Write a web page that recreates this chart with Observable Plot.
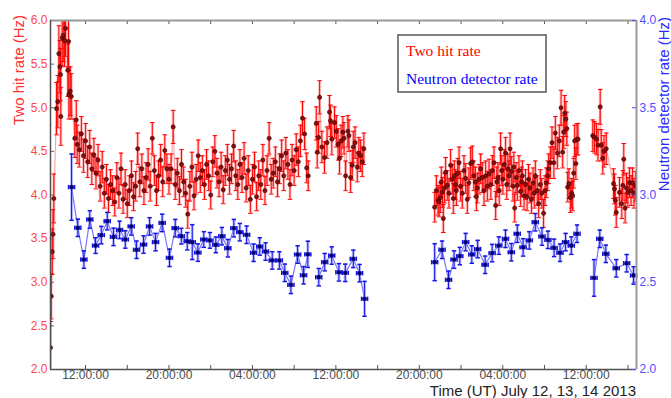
<!DOCTYPE html>
<html><head><meta charset="utf-8">
<script src="https://cdn.jsdelivr.net/npm/d3@7"></script>
<script src="https://cdn.jsdelivr.net/npm/@observablehq/plot@0.6"></script>
<style>
html,body{margin:0;padding:0;background:#fff;}
#chart{position:relative;width:671px;height:398px;overflow:hidden;}
#chart svg{position:absolute;left:0;top:0;}
</style></head><body><div id="chart"></div>
<script>
// Hours since 2013-07-12 00:00 UT, rate (Hz), error (Hz)
const redSeg1 = [[8.64,2.25,.30],[8.71,2.84,.26],[8.81,3.35,.26],[8.88,3.55,.28],[8.96,3.96,.28],[9.22,4.99,.30],[9.34,5.07,.30],[9.44,5.62,.32],[9.54,5.47,.30],[9.60,5.38,.30],[9.63,4.90,.33],[9.76,5.80,.32],[9.86,5.83,.30],[9.99,5.77,.30],[10.08,5.91,.32],[10.30,5.43,.30],[10.37,5.76,.30],[10.40,5.15,.28],[10.53,5.19,.28],[10.63,5.13,.26],[10.97,4.65,.22],[11.11,4.86,.22],[11.20,4.58,.22],
[11.4,4.52,.2],[11.6,4.70,.2],[11.8,4.45,.19],[12.0,4.62,.2],[12.2,4.38,.18],[12.4,4.55,.19],[12.6,4.30,.18],[12.8,4.46,.19],[13.0,4.25,.18],[13.2,4.40,.18],[13.4,4.10,.17],[13.6,4.32,.18],[13.8,4.02,.17],[14.0,4.18,.17],[14.2,3.96,.16],[14.4,4.12,.17],[14.6,4.05,.17],[14.8,3.92,.16],[15.0,4.20,.17],[15.2,4.02,.17],[15.4,4.30,.18],[15.6,3.95,.16],[15.8,4.12,.17],[16.0,3.90,.16],[16.2,4.05,.17],[16.4,4.22,.17],[16.6,3.98,.16],[16.8,4.10,.17],[17.0,4.53,.18],[17.2,4.15,.17],[17.4,4.30,.17],[17.6,4.05,.16],[17.8,4.20,.17],[18.0,4.35,.18],[18.2,4.10,.17],[18.4,4.65,.18],[18.6,4.28,.17],[18.8,4.05,.17],[19.0,4.22,.17],[19.2,4.40,.18],[19.4,4.15,.17],[19.6,4.51,.18],[19.8,4.30,.17],[20.0,4.18,.17],[20.2,4.30,.17],[20.4,4.78,.19],[20.6,4.12,.17],[20.8,4.25,.17],[21.0,4.05,.16],[21.2,4.35,.17],[21.4,4.15,.17],[21.6,4.02,.16],[21.8,3.78,.16],[22.0,4.10,.17],[22.2,4.32,.17],[22.4,3.99,.16],[22.6,4.18,.17],[22.8,4.45,.18],[23.0,4.20,.17],[23.2,4.28,.17],[23.4,4.12,.17],[23.6,4.35,.17],[23.8,4.22,.17],[24.0,4.00,.16],[24.2,4.38,.17],[24.4,4.50,.18],[24.6,4.25,.17],[24.8,4.15,.17],[25.0,4.32,.17],[25.2,4.06,.16],[25.4,4.28,.17],[25.6,4.40,.18],[25.8,4.18,.17],[26.0,4.30,.17],[26.2,4.56,.18],[26.4,4.22,.17],[26.6,4.12,.17],[26.8,4.35,.17],[27.0,4.20,.17],[27.2,4.42,.18],[27.4,4.08,.16],[27.6,4.28,.17],[27.8,3.95,.16],[28.0,4.18,.17],[28.2,4.32,.17],[28.4,3.98,.16],[28.6,4.22,.17],[28.8,4.12,.17],[29.0,4.40,.18],[29.2,4.05,.16],[29.4,4.28,.17],[29.6,4.65,.18],[29.8,4.18,.17],[30.0,4.25,.17],[30.2,4.38,.17],[30.4,4.15,.17],[30.6,4.30,.17],[30.8,4.45,.18],[31.0,4.22,.17],[31.2,4.48,.18],[31.4,4.35,.17],[31.6,4.12,.17],[31.8,4.40,.18],[32.0,4.28,.17],[32.2,4.52,.18],[32.4,4.38,.17],[32.6,4.62,.18],[32.8,4.88,.19],[33.0,4.70,.18],[33.2,4.31,.17],[33.35,4.22,.17]];
const redSeg2 = [[34.12,4.82,.19],[34.21,4.49,.18],[34.34,4.66,.18],[34.44,5.12,.19],[34.66,4.55,.18],[34.91,4.43,.18],[35.15,4.60,.18],[35.39,4.95,.19],[35.49,4.85,.18],[35.61,4.64,.18],[35.87,4.83,.18],[36.04,4.73,.18],[36.21,4.58,.18],[36.35,4.42,.18],[36.50,4.62,.18],[36.67,4.72,.18],[36.78,4.65,.18],[36.93,4.22,.17],[37.15,4.73,.18],[37.25,4.68,.18],[37.41,4.20,.17],[37.57,4.34,.17],[37.67,4.55,.18],[37.84,4.60,.18],[38.05,4.32,.17],[38.20,4.48,.18],[38.37,4.45,.18],[38.53,4.38,.17],[38.68,4.53,.18]];
const redSeg3 = [[45.47,3.86,.17],[45.63,4.05,.17],[45.79,3.94,.17],[45.89,3.92,.17],[46.01,3.97,.17],[46.11,4.15,.17],[46.21,4.03,.17],[46.30,3.73,.16],[46.42,4.08,.17],[46.52,4.26,.17],[46.68,4.11,.17],[46.84,4.02,.17],[47.00,4.34,.18],[47.16,4.18,.17],[47.26,3.96,.17],[47.36,4.22,.17],[47.46,4.12,.17],[47.55,4.05,.17],[47.68,4.25,.17],[47.81,4.37,.18],[47.96,4.10,.17],[48.12,4.02,.17],[48.28,4.28,.17],[48.44,4.19,.17],[48.60,3.95,.16],[48.75,4.14,.17],[48.92,4.36,.18],[49.08,4.38,.18],[49.22,4.22,.17],[49.37,4.15,.17],[49.47,3.98,.16],[49.56,4.08,.17],[49.72,4.18,.17],[49.88,4.30,.17],[50.04,4.20,.17],[50.20,4.05,.17],[50.36,4.22,.17],[50.52,4.10,.17],[50.68,4.24,.17],[50.86,4.12,.17],[51.00,4.28,.17],[51.16,4.37,.18],[51.32,3.88,.16],[51.43,4.15,.17],[51.53,4.20,.17],[51.66,4.05,.17],[51.79,4.53,.18],[51.90,4.28,.17],[52.01,4.18,.17],[52.14,4.35,.17],[52.27,4.48,.18],[52.38,4.12,.17],[52.49,4.30,.17],[52.60,4.22,.17],[52.70,4.53,.18],[52.82,4.27,.17],[52.98,4.10,.17],[53.06,4.32,.17],[53.14,3.85,.16],[53.28,4.20,.17],[53.40,4.11,.17],[53.55,4.28,.17],[53.71,4.04,.17],[53.80,4.15,.17],[53.88,4.22,.17],[54.04,3.99,.16],[54.18,4.12,.17],[54.33,3.98,.16],[54.47,4.18,.17],[54.61,4.08,.17],[54.75,3.95,.16],[54.90,4.14,.17],[55.02,4.02,.17],[55.12,4.22,.17],[55.31,4.05,.17],[55.44,3.90,.16],[55.60,4.12,.17],[55.74,4.02,.17],[55.91,3.79,.16],[56.05,4.05,.17],[56.17,4.14,.17],[56.30,4.22,.17],[56.40,4.30,.17],[56.56,4.37,.18],[56.72,4.60,.18],[56.90,4.37,.18],[57.04,4.71,.19],[57.23,4.48,.18],[57.42,4.62,.18],[57.59,5.00,.2],[57.74,4.49,.18],[57.84,4.72,.19],[57.93,4.94,.2],[58.05,4.87,.2],[58.14,4.76,.19],[58.22,4.09,.17],[58.34,4.13,.17],[58.48,3.97,.17],[58.60,4.02,.17],[58.70,3.99,.17],[58.80,4.25,.17],[58.89,4.62,.18],[59.01,4.36,.18],[59.12,4.64,.18],[59.21,4.64,.18]];
const redSeg4 = [[60.63,4.68,.18],[60.80,4.66,.18],[60.99,4.64,.18],[61.13,4.57,.18],[61.34,5.01,.2],[61.44,4.57,.18],[61.59,4.42,.18],[61.71,4.50,.18],[61.92,4.53,.18],[62.62,4.13,.17],[62.71,4.07,.17],[62.78,3.94,.17],[62.88,3.80,.17],[63.19,4.03,.17],[63.41,3.90,.17],[63.51,4.11,.17],[63.60,4.41,.18],[63.73,3.85,.17],[63.86,4.08,.17],[63.99,4.03,.17],[64.15,4.14,.17],[64.30,4.05,.17],[64.44,4.14,.17],[64.58,4.02,.17],[64.73,4.10,.17]];

const blueSeg1 = [[10.66,3.045,.19],[11.26,2.812,.05],[11.84,2.63,.05],[12.41,2.86,.05],[12.96,2.71,.045],[13.51,2.77,.05],[14.08,2.85,.05],[14.68,2.76,.05],[15.26,2.80,.05],[15.81,2.745,.05],[16.38,2.82,.05],[16.89,2.686,.05],[17.56,2.716,.05],[18.14,2.82,.05],[18.71,2.73,.05],[19.35,2.84,.05],[20.05,2.64,.05],[20.60,2.81,.05],[21.18,2.764,.045],[21.75,2.735,.05],[22.23,2.73,.1],[22.77,2.67,.05],[23.34,2.745,.045],[23.92,2.74,.045],[24.49,2.714,.045],[25.07,2.764,.05],[25.64,2.695,.05],[26.22,2.81,.05],[26.79,2.787,.05],[27.44,2.772,.05],[28.11,2.669,.05],[28.70,2.705,.05],[29.26,2.676,.05],[29.90,2.625,.05],[30.58,2.625,.05],[31.10,2.554,.05],[31.69,2.485,.05],[32.33,2.659,.05],[32.90,2.54,.05],[33.31,2.66,.075]];
const blueSeg2 = [[34.36,2.529,.05],[34.93,2.615,.05],[35.60,2.653,.05],[36.29,2.557,.05],[36.90,2.554,.05],[37.67,2.634,.05],[38.27,2.552,.05],[38.75,2.405,.1]];
const blueSeg3 = [[45.47,2.615,.106],[46.18,2.686,.05],[46.80,2.514,.05],[47.33,2.63,.05],[47.88,2.65,.05],[48.44,2.73,.05],[49.03,2.659,.05],[49.59,2.69,.05],[50.31,2.60,.05],[50.98,2.667,.05],[51.62,2.71,.05],[52.26,2.749,.05],[52.82,2.672,.05],[53.39,2.778,.05],[53.95,2.70,.05],[54.54,2.74,.05],[55.12,2.844,.05],[55.76,2.762,.05],[56.33,2.743,.05],[56.92,2.697,.05],[57.49,2.669,.05],[58.02,2.73,.05],[58.57,2.71,.05],[59.12,2.778,.05]];
const blueSeg4 = [[60.75,2.525,.105],[61.30,2.749,.05],[61.88,2.663,.05],[62.88,2.58,.05],[63.88,2.609,.05],[64.54,2.539,.05]];
const blueBinHalfWidth = 0.29; // hours

const leftTicks = [2, 2.5, 3, 3.5, 4, 4.5, 5, 5.5, 6];
const rightTicks = [2, 2.5, 3, 3.5, 4];
const xLabelTicks = [12, 20, 28, 36, 44, 52, 60];
const xMinorTicks = [12, 16, 20, 24, 28, 32, 36, 40, 44, 48, 52, 56, 60, 64];
const timeDomain = [8.64, 64.82];

const W = 671, H = 398, M = {top: 20, right: 35, bottom: 29, left: 50};
const PW = W - M.left - M.right, PH = H - M.top - M.bottom;

const rows = (arr, seg) => arr.map(([h, v, e]) => ({h, v, e, seg}));
const red = [...rows(redSeg1, 1), ...rows(redSeg2, 2), ...rows(redSeg3, 3), ...rows(redSeg4, 4)];
const blue = [...rows(blueSeg1, 1), ...rows(blueSeg2, 2), ...rows(blueSeg3, 3), ...rows(blueSeg4, 4)];

const hBar = {draw(ctx, size) { const r = Math.sqrt(size / Math.PI); ctx.moveTo(-r, 0); ctx.lineTo(r, 0); }};
const vBar = {draw(ctx, size) { const r = Math.sqrt(size / Math.PI); ctx.moveTo(0, -r); ctx.lineTo(0, r); }};
const hourLabel = h => String(h % 24).padStart(2, "0") + ":00:00";
const common = {
  width: W, height: H,
  marginTop: M.top, marginRight: M.right, marginBottom: M.bottom, marginLeft: M.left,
  style: {fontFamily: "Liberation Sans, Arial, sans-serif", fontSize: "12px", background: "transparent"}
};

const redPlot = Plot.plot({
  ...common,
  x: {domain: timeDomain},
  y: {domain: [2, 6]},
  marks: [
    Plot.line(red, {x: "h", y: "v", z: "seg", stroke: "#ff5a5a", strokeOpacity: 0.55, strokeWidth: 1.2, clip: true}),
    Plot.ruleX(red, {x: "h", y1: d => d.v - d.e, y2: d => d.v + d.e, stroke: "#ff7a7a", strokeOpacity: 0.45, strokeWidth: 3, clip: true}),
    Plot.ruleX(red, {x: "h", y1: d => d.v - d.e, y2: d => d.v + d.e, stroke: "#ff0000", strokeWidth: 1, clip: true}),
    Plot.dot(red, {x: "h", y: d => d.v + d.e, symbol: hBar, r: 2.3, stroke: "#ff0000", fill: "none", strokeWidth: 1, clip: true}),
    Plot.dot(red, {x: "h", y: d => d.v - d.e, symbol: hBar, r: 2.3, stroke: "#ff0000", fill: "none", strokeWidth: 1, clip: true}),
    Plot.dot(red, {x: "h", y: "v", r: 2.1, fill: "#8e0b0b", stroke: "#3a0000", strokeWidth: 0.6, clip: true}),
    Plot.ruleY(leftTicks, {insetRight: PW - 4, stroke: "#666"}),
    Plot.ruleX(xMinorTicks, {insetTop: PH - 4, stroke: "#555"}),
    Plot.ruleX(xMinorTicks, {insetBottom: PH - 4, stroke: "#555"}),
    Plot.ruleY([6], {stroke: "#999", strokeWidth: 2}),
    Plot.ruleY([2], {stroke: "#505050", strokeWidth: 1.5}),
    Plot.ruleX([timeDomain[0]], {stroke: "#505050", strokeWidth: 1.5}),
    Plot.axisY({ticks: leftTicks, tickFormat: d => d.toFixed(1), tickSize: 0, tickPadding: 3, color: "#ff4747", fontSize: 12, label: null}),
    Plot.axisX({ticks: xLabelTicks, tickFormat: hourLabel, tickSize: 0, tickPadding: 1, color: "#4a4a4a", fontSize: 12, label: null})
  ]
});

const bluePlot = Plot.plot({
  ...common,
  x: {domain: timeDomain, axis: null},
  y: {domain: [2, 4]},
  marks: [
    Plot.line(blue, {x: "h", y: "v", z: "seg", stroke: "#4a4aff", strokeOpacity: 0.75, strokeWidth: 1.2}),
    Plot.ruleX(blue, {x: "h", y1: d => d.v - d.e, y2: d => d.v + d.e, stroke: "#7f7fff", strokeOpacity: 0.5, strokeWidth: 3}),
    Plot.ruleY(blue, {y: "v", x1: d => d.h - blueBinHalfWidth, x2: d => d.h + blueBinHalfWidth, stroke: "#7f7fff", strokeOpacity: 0.5, strokeWidth: 3}),
    Plot.ruleX(blue, {x: "h", y1: d => d.v - d.e, y2: d => d.v + d.e, stroke: "#1414e6", strokeWidth: 1}),
    Plot.ruleY(blue, {y: "v", x1: d => d.h - blueBinHalfWidth, x2: d => d.h + blueBinHalfWidth, stroke: "#1414e6", strokeWidth: 1}),
    Plot.dot(blue, {x: "h", y: d => d.v + d.e, symbol: hBar, r: 2.2, stroke: "#1414e6", fill: "none"}),
    Plot.dot(blue, {x: "h", y: d => d.v - d.e, symbol: hBar, r: 2.2, stroke: "#1414e6", fill: "none"}),
    Plot.dot(blue, {x: d => d.h - blueBinHalfWidth, y: "v", symbol: vBar, r: 2.2, stroke: "#1414e6", fill: "none"}),
    Plot.dot(blue, {x: d => d.h + blueBinHalfWidth, y: "v", symbol: vBar, r: 2.2, stroke: "#1414e6", fill: "none"}),
    Plot.dot(blue, {x: "h", y: "v", symbol: "square", r: 1.9, fill: "#00007a", stroke: "#000050", strokeWidth: 0.5}),
    Plot.ruleY(rightTicks, {insetLeft: PW - 4, stroke: "#4a4aff"}),
    Plot.ruleX([timeDomain[1]], {stroke: "#999", strokeWidth: 2}),
    Plot.axisY({anchor: "right", ticks: rightTicks, tickFormat: d => d.toFixed(1), tickSize: 0, tickPadding: 3, color: "#4d4dff", fontSize: 12, label: null})
  ]
});

const chart = document.getElementById("chart");
chart.appendChild(redPlot);
chart.appendChild(bluePlot);

const svg = d3.select(bluePlot);
const sans = "Liberation Sans, Arial, sans-serif";
const serif = "Liberation Serif, Times New Roman, serif";
svg.append("text").attr("transform", "translate(24,70) rotate(-90)")
  .attr("text-anchor", "middle").attr("font-family", sans).attr("font-size", 15)
  .attr("fill", "#ff3030").text("Two hit rate (Hz)");
svg.append("text").attr("transform", "translate(669,104) rotate(-90)")
  .attr("text-anchor", "middle").attr("font-family", sans).attr("font-size", 15)
  .attr("fill", "#2b2bff").text("Neutron detector rate (Hz)");
svg.append("text").attr("x", 636).attr("y", 395.5).attr("text-anchor", "end")
  .attr("font-family", sans).attr("font-size", 15).attr("fill", "#222")
  .text("Time (UT) July 12, 13, 14 2013");
const lg = svg.append("g");
lg.append("rect").attr("x", 398).attr("y", 35).attr("width", 148).attr("height", 57)
  .attr("fill", "#fff").attr("stroke", "#555").attr("stroke-width", 1.5);
lg.append("text").attr("x", 406).attr("y", 55.5).attr("text-anchor", "start").attr("font-family", serif).attr("font-size", 15.5)
  .attr("fill", "#ff0000").text("Two hit rate");
lg.append("text").attr("x", 406).attr("y", 83.5).attr("text-anchor", "start").attr("font-family", serif).attr("font-size", 15.5)
  .attr("fill", "#0000ff").text("Neutron detector rate");
</script>
</body></html>
